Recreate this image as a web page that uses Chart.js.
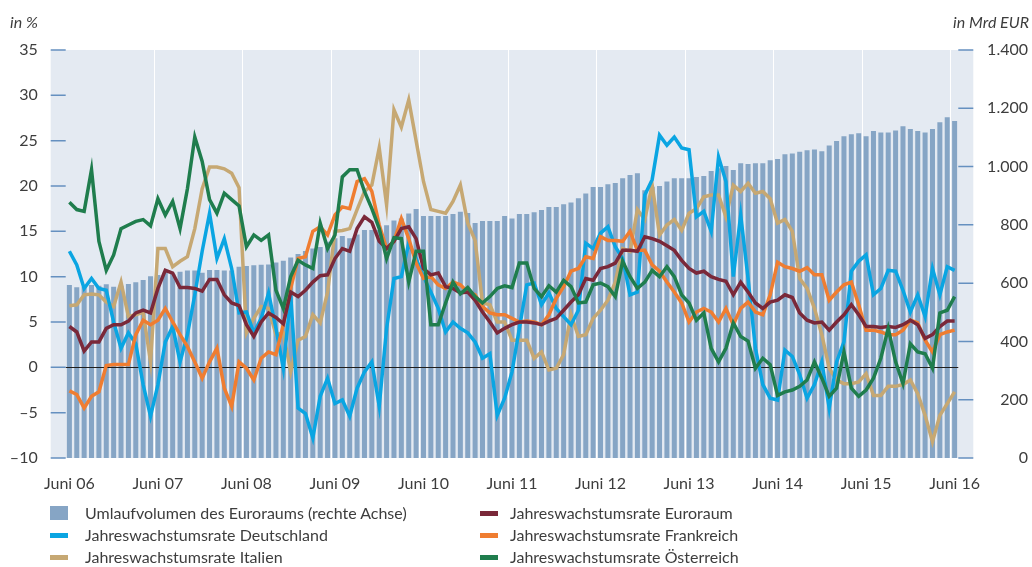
<!DOCTYPE html>
<html lang="de">
<head>
<meta charset="utf-8">
<title>Umlaufvolumen Euroraum</title>
<script src="https://cdn.jsdelivr.net/npm/chart.js@4.4.1/dist/chart.umd.min.js"></script>
<style>
  html, body { margin: 0; padding: 0; background: #fff; }
  body { width: 1032px; height: 567px; position: relative; overflow: hidden;
         font-family: Lato, "Open Sans", sans-serif; color: #3d3d3d; }
  #mainChart { position: absolute; left: 0; top: 0; }
  .unit { position: absolute; top: 12px; font-size: 16px; font-style: italic; line-height: 20px; }
  .item { position: absolute; font-size: 16px; line-height: 22px; white-space: nowrap; }
  .mark { position: absolute; left: 0; }
</style>
</head>
<body>
<canvas id="mainChart" width="1032" height="567"></canvas>
<div class="unit" style="left:10px">in %</div>
<div class="unit" style="right:3px">in Mrd EUR</div>
<div id="legend"></div>

<script>
// Juni 06 .. Juni 16, monatlich
const years = ['06', '07', '08', '09', '10', '11', '12', '13', '14', '15', '16'];
const monthNames = ['Juni', 'Juli', 'Aug', 'Sep', 'Okt', 'Nov', 'Dez', 'Jän', 'Feb', 'März', 'Apr', 'Mai'];
const months = [];
for (let y = 0; y < years.length; y++) {
    for (let m = 0; m < 12; m++) {
        if (y === years.length - 1 && m > 0) break;
        const yy = m < 7 ? years[y] : years[y + 1];
        months.push(monthNames[m] + ' ' + yy);
    }
}

// Umlaufvolumen des Euroraums, Mrd EUR (rechte Achse)
const umlauf = [
    594, 586, 588, 594, 591, 596, 588, 591, 597, 603, 611, 624, 628, 637, 631, 639, 643, 643, 636, 645, 645, 643, 643,
    656, 659, 661, 663, 664, 671, 677, 688, 700, 710, 719, 724, 742, 754, 762, 754, 767, 782, 782, 782, 799, 815, 822, 839,
    854, 830, 830, 830, 830, 837, 845, 841, 806, 813, 813, 813, 830, 822, 837, 837, 843, 851, 861, 861, 871, 877, 891, 908, 930,
    930, 939, 944, 960, 971, 977, 919, 931, 933, 949, 960, 960, 960, 964, 968, 985, 994, 1002, 988, 1011, 1009, 1011, 1011, 1022,
    1026, 1042, 1045, 1051, 1056, 1059, 1053, 1072, 1088, 1104, 1111, 1114, 1104, 1122, 1117, 1117, 1124, 1138, 1129, 1122, 1117, 1129, 1152, 1169, 1156
];

// Jahreswachstumsraten in %
const euroraum = [
    4.5, 3.9, 1.8, 2.8, 2.8, 4.3, 4.7, 4.7, 5.1, 6.0, 6.3, 6.0, 8.7, 10.7, 10.4, 8.8, 8.8, 8.7, 8.4, 9.7, 9.7, 8.0, 7.1, 6.8,
    4.7, 3.4, 5.0, 6.0, 5.5, 4.8, 8.3, 7.8, 8.5, 9.4, 10.1, 10.2, 12.0, 13.1, 12.8, 15.3, 16.6, 16.0, 13.9, 13.1, 13.9, 15.3, 15.5, 14.2,
    10.9, 10.2, 10.4, 8.9, 8.7, 8.2, 8.3, 7.4, 6.1, 5.0, 3.8, 4.3, 4.7, 5.0, 5.0, 4.9, 4.7, 5.1, 5.4, 6.3, 7.2, 8.0, 9.8, 9.6, 10.9,
    11.1, 11.5, 12.9, 12.9, 12.8, 14.4, 14.2, 13.9, 13.4, 12.9, 11.8, 10.9, 10.4, 10.6, 10.0, 9.7, 9.5, 8.0, 9.4, 8.3, 7.1, 6.5, 7.2, 7.4,
    8.0, 7.7, 6.0, 5.2, 4.9, 5.0, 4.1, 5.0, 5.8, 6.9, 5.8, 4.5, 4.5, 4.4, 4.5, 4.4, 4.7, 5.2, 4.7, 3.2, 3.6, 4.5, 5.1, 5.1
];
const deutschland = [
    12.8, 11.3, 8.7, 9.8, 8.7, 8.5, 5.0, 2.1, 3.8, 2.6, -1.9, -5.4, -1.9, 2.8, 4.5, 0.6, 3.6, 8.0, 12.8, 17.0, 12.0, 14.2, 10.9, 6.0,
    6.1, 3.8, 5.4, 8.2, 4.3, -0.1, 8.0, -4.5, -5.1, -7.8, -3.2, -1.2, -4.0, -3.6, -5.4, -2.3, -0.5, 0.6, -4.3, 4.3, 9.8, 10.0, 13.7, 12.0,
    10.0, 8.3, 6.5, 3.9, 5.0, 4.3, 3.8, 2.8, 1.0, 1.5, -5.3, -3.4, -0.5, 4.3, 9.1, 9.3, 6.9, 8.2, 6.5, 5.6, 4.7, 6.3, 13.7, 13.1, 14.8,
    15.5, 13.3, 12.0, 8.0, 8.3, 19.0, 20.7, 25.6, 24.5, 25.4, 24.2, 24.0, 16.6, 17.2, 15.0, 23.2, 20.5, 10.0, 16.8, 9.8, 2.1, -1.9, -3.4, -3.6,
    1.9, 1.2, -0.8, -3.4, -1.9, 0.6, -4.5, 0.6, 2.8, 10.6, 11.7, 12.4, 8.0, 8.7, 10.7, 10.6, 8.5, 6.1, 8.0, 5.6, 10.9, 8.0, 11.1, 10.7
];
const frankreich = [
    -2.6, -3.0, -4.5, -3.2, -2.7, 0.2, 0.3, 0.3, 0.3, 3.6, 5.2, 4.7, 5.2, 6.5, 5.0, 3.6, 2.3, 0.6, -1.2, 0.6, 2.1, -2.3, -4.3, 0.6,
    -0.1, -1.4, 1.0, 1.7, 1.4, 4.7, 8.7, 12.0, 12.2, 15.0, 15.5, 14.6, 16.8, 17.7, 17.5, 20.5, 20.8, 19.4, 15.7, 13.1, 13.9, 16.4, 14.2, 11.5,
    9.8, 10.0, 9.1, 8.7, 9.4, 9.1, 8.3, 8.0, 6.7, 6.0, 5.8, 5.8, 5.4, 5.0, 5.1, 5.0, 4.7, 5.8, 7.6, 8.9, 10.6, 10.9, 12.2, 12.0, 14.4,
    14.0, 14.0, 13.9, 15.0, 12.9, 12.9, 11.3, 10.6, 9.4, 8.3, 7.1, 5.0, 6.1, 6.5, 6.1, 5.0, 6.5, 4.7, 6.5, 7.2, 6.1, 5.8, 8.0, 11.6,
    11.1, 10.9, 10.6, 11.0, 10.2, 10.2, 7.4, 8.3, 9.1, 9.4, 6.9, 4.1, 4.1, 3.9, 3.6, 3.6, 4.1, 5.2, 4.9, 3.0, 1.7, 3.6, 3.9, 4.1
];
const italien = [
    6.8, 6.9, 8.0, 8.1, 8.0, 7.2, 6.7, 9.4, 5.6, 5.8, 6.1, 0.6, 13.1, 13.1, 11.1, 11.7, 12.2, 15.3, 19.7, 22.1, 22.1, 21.9, 21.4, 19.8,
    3.8, 5.4, 6.7, 6.5, 3.6, 3.8, -0.5, 3.0, 3.4, 5.8, 4.9, 8.3, 15.0, 15.1, 15.3, 17.4, 19.4, 20.1, 24.2, 17.9, 28.4, 26.5, 29.5, 25.0,
    20.5, 17.4, 17.2, 17.0, 18.3, 20.1, 15.9, 14.0, 7.1, 6.9, 5.0, 5.0, 3.0, 3.0, 3.0, 1.0, 1.7, -0.3, -0.1, 1.4, 5.8, 3.4, 3.6, 5.4, 6.3,
    7.4, 9.4, 13.1, 12.8, 17.4, 16.3, 20.1, 14.6, 15.7, 16.3, 15.1, 17.0, 17.5, 18.8, 19.0, 19.0, 16.6, 20.1, 19.4, 20.3, 19.2, 19.4, 18.6, 15.9,
    16.3, 15.0, 9.8, 8.7, 6.5, 3.6, -0.1, -1.4, -1.8, -1.8, -1.6, -0.7, -3.1, -3.1, -2.1, -2.1, -1.9, -1.4, -2.9, -5.3, -8.2, -5.3, -4.0, -2.7
];
const oesterreich = [
    18.2, 17.4, 17.2, 21.8, 13.9, 10.7, 12.4, 15.3, 15.7, 16.1, 16.3, 15.6, 18.6, 16.8, 18.3, 15.3, 19.7, 25.4, 22.7, 18.5, 17.0, 19.2, 18.5, 17.8,
    13.3, 14.6, 14.0, 14.6, 8.5, 6.5, 10.0, 11.8, 11.3, 10.9, 15.9, 13.1, 14.6, 21.0, 21.8, 21.8, 19.4, 17.5, 15.3, 12.0, 14.3, 14.2, 9.4, 12.8,
    12.8, 4.7, 4.7, 7.1, 9.4, 8.1, 8.8, 7.8, 7.1, 7.8, 8.7, 9.0, 8.8, 11.5, 11.5, 8.7, 7.8, 9.0, 8.3, 9.6, 8.9, 7.1, 7.2, 9.1, 9.3,
    8.9, 7.8, 11.7, 10.0, 8.7, 9.4, 10.7, 10.0, 11.1, 10.0, 8.0, 7.1, 5.2, 6.0, 2.1, 0.6, 2.1, 4.9, 3.4, 2.9, -0.1, 1.0, 0.3, -3.1,
    -2.7, -2.5, -2.1, -1.4, 0.6, -1.2, -3.2, -2.3, 1.7, -2.3, -3.2, -2.5, -1.2, 1.0, 4.3, 0.6, -1.8, 2.6, 1.7, 1.5, -0.1, 6.0, 6.3, 7.8
];

const leftTicks = [-10, -5, 0, 5, 10, 15, 20, 25, 30, 35];
const rightTicks = [0, 200, 400, 600, 800, 1000, 1200, 1400];

const textColor = '#3d3d3d';
const tickFont = { family: 'Lato', size: 16 };

function lineSet(label, data, color, order) {
    return {
        type: 'line', label: label, data: data, yAxisID: 'y',
        borderColor: color, backgroundColor: color, borderWidth: 3.5,
        pointRadius: 0, tension: 0, order: order
    };
}

// Hintergrund, Skalenstriche und Nulllinie
const decor = {
    id: 'decor',
    beforeDraw(chart) {
        const a = chart.chartArea, c = chart.ctx;
        c.save();
        c.fillStyle = '#e4eaf2';
        c.fillRect(a.left - 15, a.top, a.right - a.left + 30, a.bottom - a.top);
        c.restore();
    },
    afterDatasetDraw(chart, args) {
        if (args.meta.type !== 'bar') return;
        const a = chart.chartArea, c = chart.ctx;
        const y0 = Math.round(chart.scales.y.getPixelForValue(0)) + 0.5;
        c.save();
        c.strokeStyle = '#1e1e1e';
        c.lineWidth = 1;
        c.beginPath();
        c.moveTo(a.left, y0);
        c.lineTo(a.right, y0);
        c.stroke();
        c.restore();
    },
    afterDraw(chart) {
        const a = chart.chartArea, c = chart.ctx;
        c.save();
        c.strokeStyle = '#6590c0';
        c.lineWidth = 1.5;
        c.beginPath();
        leftTicks.forEach(v => {
            const y = chart.scales.y.getPixelForValue(v);
            c.moveTo(a.left - 15, y);
            c.lineTo(a.left, y);
        });
        rightTicks.forEach(v => {
            const y = chart.scales.y2.getPixelForValue(v);
            c.moveTo(a.right, y);
            c.lineTo(a.right + 15, y);
        });
        c.stroke();
        c.restore();
    }
};

const ctx = document.getElementById('mainChart');
const chart = new Chart(ctx, {
    data: {
        labels: months,
        datasets: [
            lineSet('Jahreswachstumsrate Österreich', oesterreich, '#1f7d4d', 1),
            lineSet('Jahreswachstumsrate Euroraum', euroraum, '#7a2839', 2),
            lineSet('Jahreswachstumsrate Frankreich', frankreich, '#ef7d31', 3),
            lineSet('Jahreswachstumsrate Deutschland', deutschland, '#0aa5e2', 4),
            lineSet('Jahreswachstumsrate Italien', italien, '#c6a873', 5),
            {
                type: 'bar', label: 'Umlaufvolumen des Euroraums (rechte Achse)',
                data: umlauf, yAxisID: 'y2', backgroundColor: '#86a5c5',
                barPercentage: 0.68, categoryPercentage: 1, order: 10
            }
        ]
    },
    options: {
        responsive: false,
        animation: false,
        layout: { padding: { top: 50, right: 4, bottom: 0, left: 0 } },
        plugins: { legend: { display: false }, tooltip: { enabled: false } },
        scales: {
            x: {
                offset: true,
                grid: {
                    offset: true, drawTicks: false, lineWidth: 1,
                    color: c => (c.tick && c.index > 0 && c.index % 12 === 0) ? '#ffffff' : 'rgba(0,0,0,0)'
                },
                border: { display: false },
                ticks: {
                    autoSkip: false, maxRotation: 0, minRotation: 0, padding: 16,
                    color: textColor, font: tickFont,
                    callback: (v, i) => i % 12 === 0 ? months[i] : ''
                },
                afterFit: s => { s.height = 109; }
            },
            y: {
                position: 'left', min: -10, max: 35,
                grid: { display: false, drawTicks: false },
                border: { display: false },
                ticks: {
                    stepSize: 5, padding: 28, color: textColor, font: tickFont,
                    callback: v => String(v).replace('-', '\u2013')
                },
                afterFit: s => { s.width = 65.7; }
            },
            y2: {
                position: 'right', min: 0, max: 1400,
                grid: { display: false, drawTicks: false },
                border: { display: false },
                ticks: {
                    stepSize: 200, crossAlign: 'far', color: textColor, font: tickFont,
                    callback: v => String(v).replace(/\B(?=(\d{3})+(?!\d))/g, '.')
                },
                afterFit: s => { s.width = 69.7; }
            }
        }
    },
    plugins: [decor]
});

// Legende in zwei Spalten
const legendItems = [
    { ds: 5, x: 50, y: 502, box: true },
    { ds: 1, x: 480, y: 502 },
    { ds: 3, x: 50, y: 524 },
    { ds: 2, x: 480, y: 524 },
    { ds: 4, x: 50, y: 546 },
    { ds: 0, x: 480, y: 546 }
];
const legend = document.getElementById('legend');
legendItems.forEach(it => {
    const ds = chart.data.datasets[it.ds];
    const el = document.createElement('div');
    el.className = 'item';
    el.style.left = it.x + 'px';
    el.style.top = it.y + 'px';
    el.style.paddingLeft = (it.x < 100 ? 35 : 30) + 'px';
    const mk = document.createElement('span');
    mk.className = 'mark';
    mk.style.width = '18px';
    mk.style.height = it.box ? '14px' : '5px';
    mk.style.top = it.box ? '4px' : '9px';
    mk.style.background = it.box ? ds.backgroundColor : ds.borderColor;
    el.appendChild(mk);
    el.appendChild(document.createTextNode(ds.label));
    legend.appendChild(el);
});
</script>
</body>
</html>
